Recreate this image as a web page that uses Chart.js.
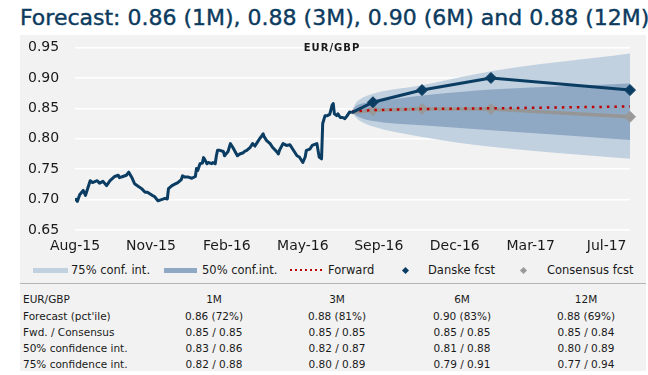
<!DOCTYPE html>
<html>
<head>
<meta charset="utf-8">
<script src="https://cdn.jsdelivr.net/npm/chart.js@4.4.1/dist/chart.umd.min.js"></script>
<style>
  body { margin: 0; width: 648px; height: 375px; background: #fff; position: relative; overflow: hidden;
         font-family: 'DejaVu Sans', sans-serif; color: #1a1a1a; }
  #title { position: absolute; left: 20px; top: 4px; font-size: 22px; line-height: 28px; color: #0c3b5e;
           -webkit-text-stroke: 0.4px #0c3b5e; white-space: nowrap; }
  #panel { position: absolute; left: 20px; top: 35px; width: 626px; height: 336px; background: #f2f2f2; }
  #wrap { position: absolute; left: 20px; top: 35px; width: 624px; height: 225px; }
  #wrap canvas { display: block; }
  #pair { position: absolute; left: 296px; top: 41px; width: 72px; text-align: center; font-size: 10px;
          font-weight: bold; letter-spacing: 1px; line-height: 14px; }
  .lg { position: absolute; top: 263px; font-size: 11.5px; line-height: 14px; white-space: nowrap; }
  .sw { position: absolute; top: 268px; height: 5px; }
  .dm { position: absolute; width: 5px; height: 5px; transform: rotate(45deg); }
  #rule { position: absolute; left: 20px; top: 283px; width: 626px; height: 1px; background: #b5b5b5; }
  .tc { position: absolute; font-size: 10.5px; line-height: 14px; white-space: nowrap; }
</style>
</head>
<body>
<div id="panel"></div>
<div id="title">Forecast: 0.86 (1M), 0.88 (3M), 0.90 (6M) and 0.88 (12M)</div>
<div id="wrap"><canvas id="fxChart" width="624" height="225"></canvas></div>
<div id="pair">EUR/GBP</div>

<div class="sw" style="left:33px; width:35px; background:#c2d1e0;"></div>
<div class="lg" style="left:71px;">75% conf. int.</div>
<div class="sw" style="left:164px; width:33px; background:#8fa9c4;"></div>
<div class="lg" style="left:202px;">50% conf.int.</div>
<div class="sw" style="left:290px; width:33px; top:269px; height:2px; background:repeating-linear-gradient(90deg, #c00000 0 2px, transparent 2px 5px);"></div>
<div class="lg" style="left:328px;">Forward</div>
<div class="dm" style="left:403px; top:268px; background:#0b3d63;"></div>
<div class="lg" style="left:428px;">Danske fcst</div>
<div class="dm" style="left:521px; top:268px; background:#999;"></div>
<div class="lg" style="left:547px;">Consensus fcst</div>

<div id="rule"></div>
<div id="tbl"></div>

<script>
// x = trading-day index from the first observation (Aug-15)
const tickPos = [0, 65, 130, 195, 260, 325, 390, 455];
const tickLabels = ['Aug-15', 'Nov-15', 'Feb-16', 'May-16', 'Sep-16', 'Dec-16', 'Mar-17', 'Jul-17'];

// EUR/GBP spot history
const histX = [0, 2, 4, 7, 9, 13, 15, 19, 21, 24, 27, 30, 34, 37, 38, 41, 44, 46, 49, 51, 54, 57, 60, 62,
  66, 68, 71, 74, 77, 79, 80, 83, 85, 88, 91, 92, 94, 97, 100, 103, 104, 105, 107, 109, 110, 111, 113, 114,
  117, 118, 120, 121, 122, 124, 127, 128, 131, 133, 135, 139, 141, 144, 145, 147, 150, 152, 154, 156, 158,
  160, 161, 162, 164, 167, 169, 173, 174, 175, 178, 181, 184, 186, 190, 192, 195, 197, 198, 201, 203, 207,
  209, 211, 212, 214, 216, 218, 220, 221, 222, 224, 225, 227, 229, 231, 233, 235, 237];
const histY = [0.702, 0.697, 0.708, 0.715, 0.707, 0.731, 0.728, 0.731, 0.727, 0.730, 0.723, 0.731, 0.738,
  0.740, 0.736, 0.738, 0.740, 0.745, 0.735, 0.726, 0.722, 0.718, 0.712, 0.712, 0.707, 0.705, 0.698, 0.700,
  0.702, 0.701, 0.718, 0.723, 0.725, 0.728, 0.733, 0.739, 0.737, 0.737, 0.735, 0.738, 0.751, 0.748, 0.759,
  0.760, 0.769, 0.766, 0.759, 0.761, 0.759, 0.761, 0.759, 0.772, 0.781, 0.781, 0.779, 0.772, 0.779, 0.792,
  0.786, 0.772, 0.775, 0.777, 0.779, 0.781, 0.786, 0.792, 0.788, 0.794, 0.800, 0.805, 0.808, 0.803, 0.797,
  0.792, 0.786, 0.778, 0.775, 0.781, 0.792, 0.789, 0.790, 0.784, 0.772, 0.770, 0.761, 0.770, 0.781, 0.783,
  0.789, 0.792, 0.770, 0.767, 0.825, 0.838, 0.838, 0.840, 0.855, 0.858, 0.841, 0.838, 0.841, 0.835, 0.835,
  0.833, 0.838, 0.844, 0.843];

// forecasts: spot, 1M, 3M, 6M, 12M
const fcstX = [237, 255, 297, 356, 475];
const danske = [0.843, 0.860, 0.880, 0.900, 0.880];
const consensus = [0.843, 0.847, 0.849, 0.849, 0.836];
const forward = [0.845, 0.847, 0.849, 0.850, 0.853];

// confidence bands
const bandX = [237, 240, 244, 255, 297, 356, 475];
const band75Lo = [0.845, 0.836, 0.829, 0.820, 0.803, 0.787, 0.767];
const band75Hi = [0.845, 0.858, 0.865, 0.874, 0.888, 0.911, 0.940];
const band50Lo = [0.845, 0.839, 0.835, 0.829, 0.822, 0.814, 0.798];
const band50Hi = [0.845, 0.853, 0.857, 0.860, 0.871, 0.881, 0.891];

// table below the chart
const tableCols = ['1M', '3M', '6M', '12M'];
const tableRows = [
  ["Forecast (pct'ile)", '0.86 (72%)', '0.88 (81%)', '0.90 (83%)', '0.88 (69%)'],
  ['Fwd. / Consensus', '0.85 / 0.85', '0.85 / 0.85', '0.85 / 0.85', '0.85 / 0.84'],
  ['50% confidence int.', '0.83 / 0.86', '0.82 / 0.87', '0.81 / 0.88', '0.80 / 0.89'],
  ['75% confidence int.', '0.82 / 0.88', '0.80 / 0.89', '0.79 / 0.91', '0.77 / 0.94']
];

const pts = (xs, ys) => xs.map((x, i) => ({ x: x, y: ys[i] }));
const NAVY = '#0b3d63';

const band = (data, fill, color, order) => ({
  data: data, borderWidth: 0, pointRadius: 0, fill: fill, backgroundColor: color,
  cubicInterpolationMode: 'monotone', order: order
});

new Chart(document.getElementById('fxChart').getContext('2d'), {
  type: 'line',
  data: {
    datasets: [
      band(pts(bandX, band75Lo), false, 'transparent', 9),
      band(pts(bandX, band75Hi), '-1', '#c2d1e0', 8),
      band(pts(bandX, band50Lo), false, 'transparent', 7),
      band(pts(bandX, band50Hi), '-1', '#8fa9c4', 6),
      {
        label: 'Consensus fcst', data: pts(fcstX, consensus), borderColor: '#969696', borderWidth: 3.5,
        pointStyle: 'rectRot', pointRadius: [0, 5.5, 5.5, 5.5, 5.5], pointBackgroundColor: '#999',
        pointBorderColor: '#999', pointBorderWidth: 1, clip: false, order: 4
      },
      {
        label: 'Forward', data: pts(fcstX, forward), borderColor: '#c00000', borderWidth: 2.5,
        borderDash: [2.5, 5], pointRadius: 0, order: 3
      },
      {
        label: 'Danske fcst', data: pts(fcstX, danske), borderColor: NAVY, borderWidth: 3,
        pointStyle: 'rectRot', pointRadius: [0, 5.5, 5.5, 5.5, 5.5], pointBackgroundColor: NAVY,
        pointBorderColor: NAVY, pointBorderWidth: 1, clip: false, order: 2
      },
      {
        label: 'EUR/GBP', data: pts(histX, histY), borderColor: NAVY, borderWidth: 3,
        pointRadius: 0, borderJoinStyle: 'round', order: 1
      }
    ]
  },
  options: {
    responsive: false,
    animation: false,
    layout: { padding: { top: 12.5, right: 14, left: 8, bottom: 0 } },
    plugins: { legend: { display: false }, tooltip: { enabled: false } },
    scales: {
      x: {
        type: 'linear', min: 0, max: 475,
        afterBuildTicks: axis => { axis.ticks = tickPos.map(v => ({ value: v })); },
        afterFit: axis => { axis.height = 30; },
        grid: { display: false, drawTicks: false },
        border: { display: false },
        ticks: {
          autoSkip: false, maxRotation: 0, padding: 8, color: '#1a1a1a',
          font: { family: "'DejaVu Sans', sans-serif", size: 14 },
          callback: v => tickLabels[tickPos.indexOf(v)]
        }
      },
      y: {
        min: 0.65, max: 0.95,
        afterFit: axis => { axis.width = 47; },
        grid: { color: '#ffffff', lineWidth: 1.5, drawTicks: false },
        border: { display: false },
        ticks: {
          stepSize: 0.05, padding: 2, crossAlign: 'far', color: '#1a1a1a',
          font: { family: "'DejaVu Sans', sans-serif", size: 14 },
          callback: v => v.toFixed(2)
        }
      }
    }
  }
});

// table
const colCenters = [214, 337, 462, 586];
const rowTops = [292, 309, 325, 341, 357];
const tbl = document.getElementById('tbl');
function cell(text, left, top, center) {
  const d = document.createElement('div');
  d.className = 'tc';
  d.textContent = text;
  d.style.top = top + 'px';
  if (center) { d.style.left = (left - 60) + 'px'; d.style.width = '120px'; d.style.textAlign = 'center'; }
  else d.style.left = left + 'px';
  tbl.appendChild(d);
}
cell('EUR/GBP', 23, rowTops[0], false);
tableCols.forEach((c, i) => cell(c, colCenters[i], rowTops[0], true));
tableRows.forEach((r, j) => {
  cell(r[0], 23, rowTops[j + 1], false);
  r.slice(1).forEach((v, i) => cell(v, colCenters[i], rowTops[j + 1], true));
});
</script>
</body>
</html>
